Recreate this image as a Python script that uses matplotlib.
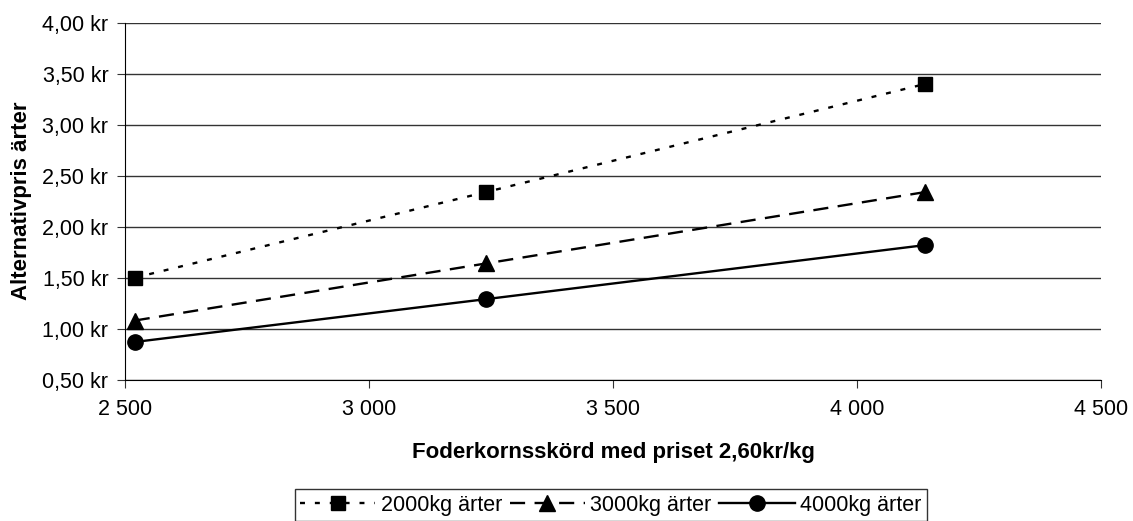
import matplotlib.pyplot as plt
from matplotlib.ticker import FuncFormatter, MultipleLocator

plt.rcParams['font.family'] = ['Liberation Sans', 'DejaVu Sans']

# foderkornsskörd (kg) och alternativpris för ärter (kr)
skord = [2520, 3240, 4140]
pris_2000 = [1.50, 2.34, 3.40]
pris_3000 = [1.08, 1.64, 2.34]
pris_4000 = [0.87, 1.29, 1.82]
serier = ["2000kg ärter", "3000kg ärter", "4000kg ärter"]

fig = plt.figure(figsize=(11.33, 5.21), dpi=100)
ax = fig.add_axes([0.1103, 0.2712, 0.8615, 0.6852])

ax.plot(skord, pris_2000, color='black', lw=1.7, ls=(0, (2.1, 4.2)),
        marker='s', ms=10.5, label=serier[0])
ax.plot(skord, pris_3000, color='black', lw=1.7, ls=(0, (6.4, 4)),
        marker='^', ms=11, label=serier[1])
ax.plot(skord, pris_4000, color='black', lw=1.7, ls='-',
        marker='o', ms=11, label=serier[2])

ax.set_xlim(2500, 4500)
ax.set_ylim(0.5, 4.0)
ax.xaxis.set_major_locator(MultipleLocator(500))
ax.yaxis.set_major_locator(MultipleLocator(0.5))
ax.xaxis.set_major_formatter(FuncFormatter(lambda v, p: f"{int(v):,}".replace(",", " ")))
ax.yaxis.set_major_formatter(FuncFormatter(lambda v, p: f"{v:.2f}".replace(".", ",") + " kr"))
ax.grid(axis='y', color='#333333', lw=1)
ax.set_axisbelow(True)
for s in ['top', 'right']:
    ax.spines[s].set_visible(False)
ax.tick_params(axis='both', labelsize=15.5, length=6, direction='out', color='#333333')
ax.tick_params(axis='x', pad=8)
ax.tick_params(axis='y', pad=6)

ax.set_xlabel("Foderkornsskörd med priset 2,60kr/kg", fontsize=16,
              fontweight='bold', labelpad=16)
ax.set_ylabel("Alternativpris ärter", fontsize=16, fontweight='bold', labelpad=7)

leg = fig.legend(loc='lower center', bbox_to_anchor=(0.539, 0.0), ncol=3,
                 fontsize=15.5, frameon=True, fancybox=False, handlelength=3.5,
                 handletextpad=0.25, columnspacing=0.35, borderpad=0.25,
                 borderaxespad=0)
leg.get_frame().set_edgecolor('black')
leg.get_frame().set_linewidth(1)

fig.savefig("out.png", dpi=100)
